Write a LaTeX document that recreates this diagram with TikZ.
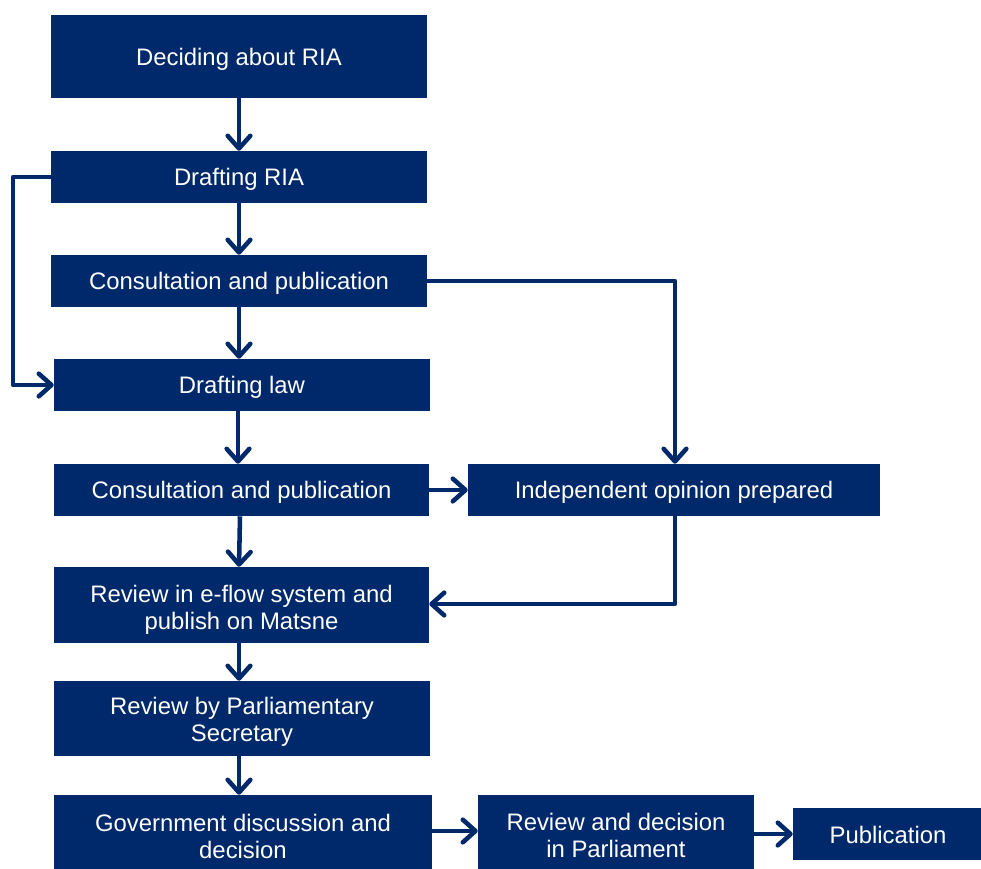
\documentclass[tikz,border=0pt]{standalone}
\usepackage{fontspec}
\setmainfont{Liberation Sans}
\usetikzlibrary{arrows.meta}
\definecolor{navy}{RGB}{0,41,107}
\newcommand\dn[2]{\raisebox{-#1}[\height][\depth]{#2}}
\newcommand\two[3]{\raisebox{-#1}[\height][\depth]{\begin{tabular}{@{}c@{}}#2\\#3\end{tabular}}}
\tikzset{
  box/.style={fill=navy, text=white, inner sep=0pt,
    font=\fontsize{17.9}{20.3}\selectfont},
  conn/.style={draw=navy, line width=3.4pt, line join=round,
    -{Straight Barb[length=9.5pt,width=17pt,round]}}
}
\begin{document}
\begin{tikzpicture}[x=0.75pt,y=-0.75pt]
\useasboundingbox (0,0) rectangle (981,868);
% nodes (centers in px, sizes in px*0.75pt)
\node[box, minimum width=376*0.75pt, minimum height=83*0.75pt] (decide) at (239,56.5) {\dn{2.2pt}{Deciding about RIA}};
\node[box, minimum width=376*0.75pt, minimum height=52*0.75pt] (draftria) at (239,177) {\dn{1.6pt}{Drafting RIA}};
\node[box, minimum width=376*0.75pt, minimum height=52*0.75pt] (cons1) at (239,281) {\dn{1.6pt}{Consultation and publication}};
\node[box, minimum width=376*0.75pt, minimum height=52*0.75pt] (draftlaw) at (242,385) {\dn{1.6pt}{Drafting law}};
\node[box, minimum width=375*0.75pt, minimum height=52*0.75pt] (cons2) at (241.5,490) {\dn{1.6pt}{Consultation and publication}};
\node[box, minimum width=412*0.75pt, minimum height=52*0.75pt] (indep) at (674,490) {\dn{1.6pt}{Independent opinion prepared}};
\node[box, minimum width=375*0.75pt, minimum height=76*0.75pt] (eflow) at (241.5,605) {\two{4.2pt}{Review in e-flow system and}{publish on Matsne}};
\node[box, minimum width=376*0.75pt, minimum height=75*0.75pt] (parlsec) at (242,718.5) {\two{3.4pt}{Review by Parliamentary}{Secretary}};
\node[box, minimum width=378*0.75pt, minimum height=80*0.75pt] (gov) at (243,835) {\two{3.3pt}{Government discussion and}{decision}};
\node[box, minimum width=276*0.75pt, minimum height=80*0.75pt] (parl) at (616,835) {\two{3pt}{Review and decision}{in Parliament}};
\node[box, minimum width=190*0.75pt, minimum height=52*0.75pt] (pub) at (888,834) {\dn{0.7pt}{Publication}};
% connectors
\coordinate (c1) at (13,177);
\coordinate (c2) at (675,281);
\coordinate (c3) at (675,604);
\draw[conn] (decide.south) -- (draftria.north);
\draw[conn] (draftria.south) -- (cons1.north);
\draw[conn] (cons1.south -| 239,0) -- (draftlaw.north -| 239,0);
\draw[conn] (draftria.west) -- (c1) |- (draftlaw.west);
\draw[conn] (cons1.east) -- (c2) -- (indep.north -| c2);
\draw[conn] (draftlaw.south -| 238,0) -- (cons2.north -| 238,0);
\draw[conn] (cons2.east) -- (indep.west);
\draw[conn] (cons2.south -| 240,0) -- (eflow.north -| 239,0);
\draw[conn] (indep.south -| c3) -- (c3) -- (eflow.east |- c3);
\draw[conn] (eflow.south -| 239,0) -- (parlsec.north -| 239,0);
\draw[conn] (parlsec.south -| 239,0) -- (gov.north -| 239,0);
\draw[conn] (gov.east |- 0,831) -- (parl.west |- 0,831);
\draw[conn] (parl.east |- 0,834) -- (pub.west |- 0,834);
\end{tikzpicture}
\end{document}
